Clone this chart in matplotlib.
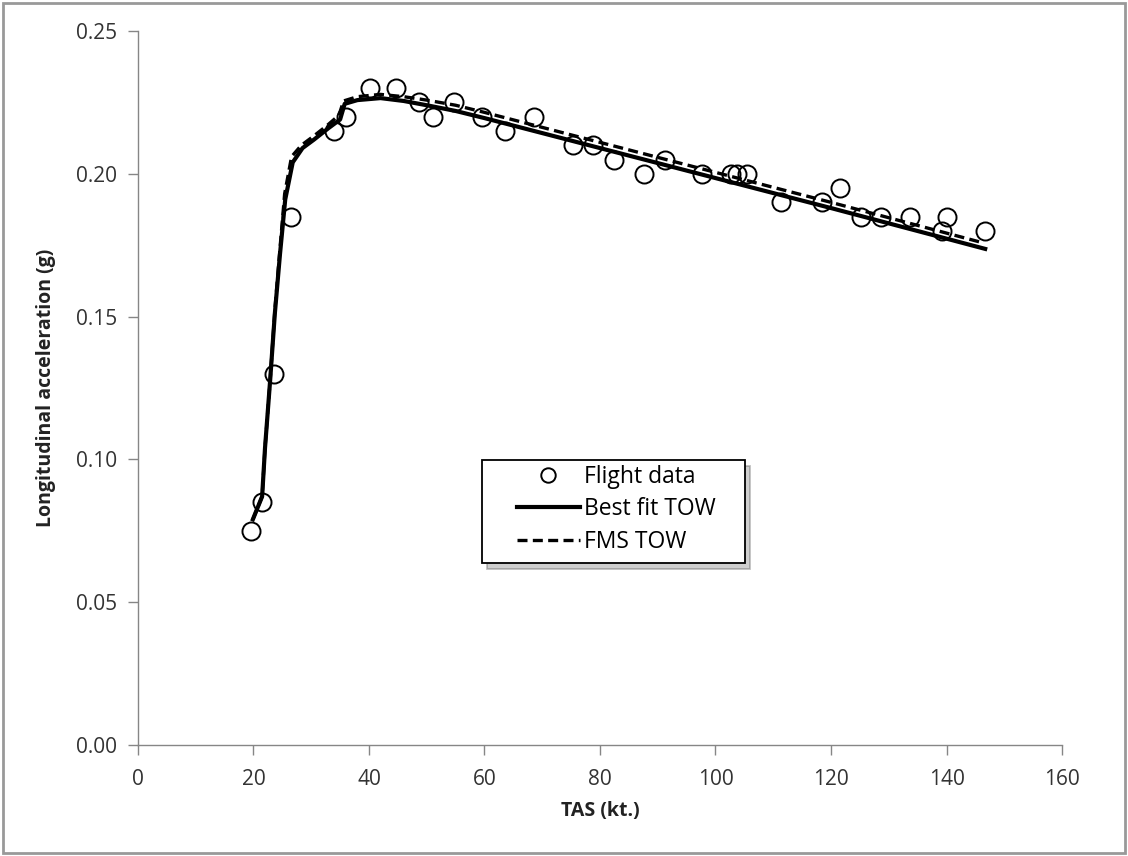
import numpy as np
import matplotlib
matplotlib.use("Agg")
from matplotlib import pyplot as plt
from matplotlib.patches import Rectangle, Shadow

plt.rcParams['font.family'] = ['Open Sans', 'DejaVu Sans']

# flight data points (TAS kt, longitudinal acceleration g)
tas_data = [19.5, 21.5, 23.5, 26.5, 33.9, 36.0, 40.2, 44.7, 48.7, 51.1, 54.7,
            59.6, 63.5, 68.6, 75.3, 78.8, 82.4, 87.6, 91.2, 97.7, 102.7, 103.7,
            105.5, 111.3, 118.4, 121.6, 125.2, 128.7, 133.7, 139.2, 140.1, 146.7]
acc_data = [0.075, 0.085, 0.130, 0.185, 0.215, 0.220, 0.230, 0.230, 0.225, 0.220, 0.225,
            0.220, 0.215, 0.220, 0.210, 0.210, 0.205, 0.200, 0.205, 0.200, 0.200, 0.200,
            0.200, 0.190, 0.190, 0.195, 0.185, 0.185, 0.185, 0.180, 0.185, 0.180]

# best fit TOW curve
tas_fit = [19.9, 21.5, 22.0, 22.9, 23.7, 24.6, 25.5, 26.8, 28.5, 30.5, 33.0, 35.0,
           35.8, 38.0, 42.0, 46.0, 50.0, 55.0, 60.0, 80.0, 100.0, 120.0, 146.7]
acc_fit = [0.079, 0.087, 0.104, 0.128, 0.151, 0.172, 0.191, 0.204, 0.209, 0.212, 0.216, 0.219,
           0.2245, 0.2258, 0.2265, 0.2255, 0.2240, 0.2220, 0.2195, 0.2090, 0.1985, 0.1880, 0.1737]

# FMS TOW curve
tas_fms = [19.9, 21.5, 22.0, 22.9, 23.7, 24.6, 25.4, 26.6, 28.3, 30.3, 32.8, 34.8,
           35.6, 38.0, 42.0, 46.0, 50.0, 55.0, 60.0, 80.0, 100.0, 120.0, 146.0]
acc_fms = [0.079, 0.087, 0.104, 0.128, 0.152, 0.174, 0.193, 0.206, 0.210, 0.213, 0.217, 0.2205,
           0.2255, 0.2270, 0.2278, 0.2270, 0.2258, 0.2240, 0.2215, 0.2110, 0.2005, 0.1900, 0.1760]

fig = plt.figure(figsize=(11.28, 8.56), dpi=100)
ax = fig.add_axes([0.1223, 0.1297, 0.8192, 0.8341])

ax.plot(tas_data, acc_data, 'o', markersize=13, markerfacecolor='none',
        markeredgecolor='black', markeredgewidth=1.4, label='Flight data', zorder=3)
ax.plot(tas_fit, acc_fit, '-', color='black', linewidth=3.0, label='Best fit TOW', zorder=2)
ax.plot(tas_fms, acc_fms, '--', color='black', linewidth=2.4, dashes=(3, 1.6),
        label='FMS TOW', zorder=2)

ax.set_xlim(0, 160)
ax.set_ylim(0, 0.25)
ax.set_xticks(np.arange(0, 161, 20))
ax.set_yticks(np.arange(0, 0.251, 0.05))
ax.set_yticklabels(['%.2f' % v for v in np.arange(0, 0.251, 0.05)])

for s in ['top', 'right']:
    ax.spines[s].set_visible(False)
for s in ['left', 'bottom']:
    ax.spines[s].set_color('#868686')
    ax.spines[s].set_linewidth(1.0)
ax.tick_params(colors='#868686', labelcolor='#333333', labelsize=15, length=7, width=1.0)
ax.tick_params(axis='x', pad=10)
ax.tick_params(axis='y', pad=8)

ax.set_xlabel('TAS (kt.)', fontsize=14, fontweight='bold', color='#222222', labelpad=8)
ax.set_ylabel('Longitudinal acceleration (g)', fontsize=14, fontweight='bold',
              color='#222222', labelpad=14)

# legend box drawn by hand so the handles sit inset like the original
box = Rectangle((0.372, 0.255), 0.2846, 0.1443, transform=ax.transAxes,
                facecolor='white', edgecolor='black', linewidth=1.3, zorder=4)
shadow = Shadow(box, 0.004, -0.006, facecolor='#777777', alpha=0.35, zorder=3.9)
ax.add_patch(shadow)
ax.add_patch(box)

leg = ax.legend(loc='upper left', bbox_to_anchor=(0.410, 0.392), fontsize=16.5,
                frameon=False, handlelength=2.75, handletextpad=0.2, markerscale=0.8,
                borderpad=0, borderaxespad=0, labelspacing=0.36)
leg.set_zorder(5)

# outer border of the picture
fig.patches.append(Rectangle((0.003, 0.003), 0.994, 0.994, transform=fig.transFigure,
                             fill=False, edgecolor='#999999', linewidth=2.0))

fig.savefig('out.png', dpi=100)
